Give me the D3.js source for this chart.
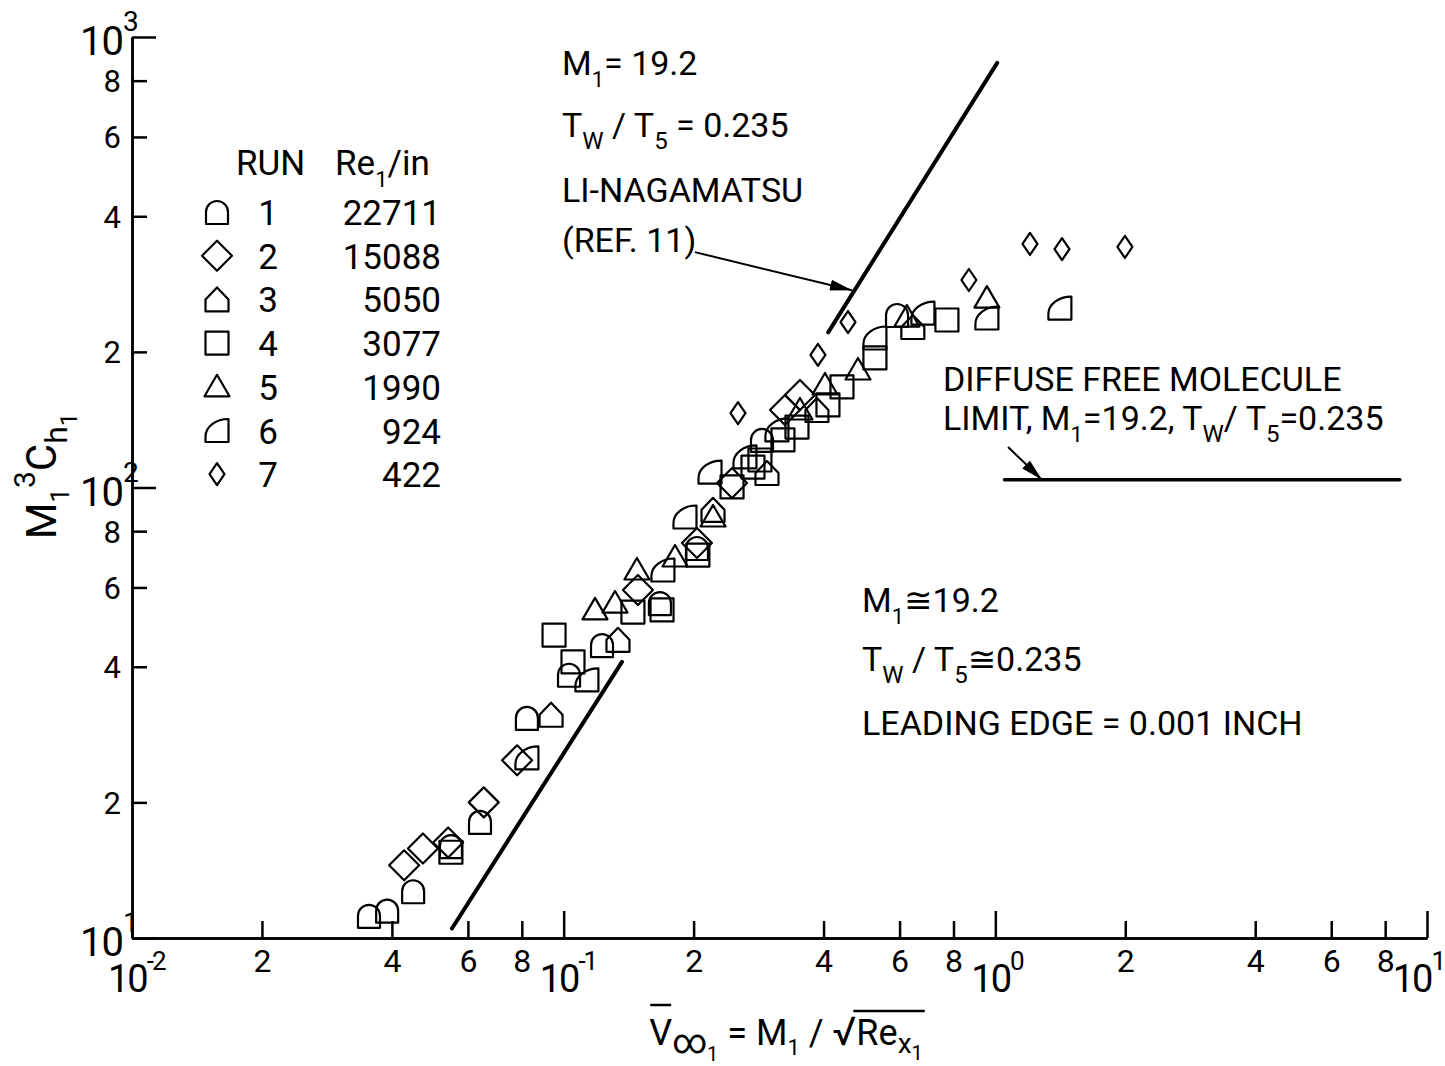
<!DOCTYPE html>
<html>
<head>
<meta charset="utf-8">
<script src="https://cdn.jsdelivr.net/npm/d3@7"></script>
<style>
  body { margin: 0; background: #fff; }
  svg text { font-family: Roboto, "DejaVu Sans", sans-serif; fill: #000; white-space: pre; }
</style>
</head>
<body>
<div id="chart"></div>
<script>
/**
 * CONSTANTS AND DATA
 * */
const width = 1445,
  height = 1066;

// legend: run number and unit Reynolds number
const runIds = ["1", "2", "3", "4", "5", "6", "7"];
const reynolds = ["22711", "15088", "5050", "3077", "1990", "924", "422"];

// measured points, [V_inf, M^3 Ch] for each run
const run1 = [[0.0354, 11.2], [0.0390, 11.5], [0.0448, 12.7], [0.0548, 16.0], [0.0640, 18.1], [0.0822, 30.8],
  [0.1029, 38.4], [0.1227, 44.7], [0.1671, 55.4], [0.2036, 73.4], [0.288, 127.5], [0.592, 241.5]];
const run2 = [[0.0427, 14.5], [0.0472, 15.8], [0.0540, 16.3], [0.0653, 20.0], [0.0780, 24.8], [0.1486, 59.2],
  [0.2036, 75.3], [0.2455, 102.3], [0.3256, 148.6], [0.3527, 160.5]];
const run3 = [[0.0935, 31.3], [0.1336, 45.9], [0.2218, 89.2], [0.2958, 107.7], [0.3861, 148.6], [0.644, 227.1]];
const run4 = [[0.0548, 15.5], [0.0950, 47.0], [0.1051, 41.0], [0.1447, 52.9], [0.1690, 53.5], [0.2046, 70.8],
  [0.2455, 100.3], [0.2745, 111.0], [0.2849, 115.1], [0.3221, 127.5], [0.3471, 136.2], [0.4095, 152.5],
  [0.4413, 167.2], [0.5261, 193.9], [0.7724, 235.4]];
const run5 = [[0.1182, 53.5], [0.1315, 55.4], [0.1478, 65.6], [0.1811, 70.1], [0.2218, 86.0], [0.3527, 148.6],
  [0.4030, 168.9], [0.4806, 182.3], [0.624, 239.0], [0.956, 263.3]];
const run6 = [[0.0822, 25.1], [0.1132, 37.4], [0.1698, 65.6], [0.1910, 86.0], [0.2183, 108.2], [0.2630, 116.9],
  [0.3119, 134.2], [0.5261, 214.7], [0.6796, 243.9], [0.956, 237.8], [1.411, 250.2]];
const run7 = [[0.2534, 146.3], [0.3882, 196.9], [0.4557, 233.0], [0.8685, 288.8], [1.203, 347.2],
  [1.427, 338.3], [1.996, 341.9]];

// theory lines
const liNagamatsu = [[0.41, 221], [1.01, 876]];
const lowerLine = [[0.0551, 10.5], [0.1365, 41.0]];
const freeMolecule = [[1.05, 104], [8.65, 104]];
// arrows pointing at lines [from, to]
const liArrow = [[0.2014, 333], [0.4654, 274]];
const fmArrow = [[1.07, 123], [1.282, 104]];

// ticks
const xDecades = [-2, -1, 0, 1];
const yDecades = [1, 2, 3];
const minorDigits = [2, 4, 6, 8];

/**
 * SCALES
 * */
const x = d3.scaleLog().domain([0.01, 10]).range([132, 1427]);
const y = d3.scaleLog().domain([10, 1000]).range([938, 37]);

const svg = d3.select("#chart").append("svg")
  .attr("width", width)
  .attr("height", height);

// little helper for text with sub/superscripts: parts = [text, dy from baseline, size]
function rich(g, px, py, parts, anchor) {
  const t = g.append("text").attr("x", px).attr("y", py)
    .attr("text-anchor", anchor || "start");
  let off = 0;
  parts.forEach(([s, d, fs]) => {
    t.append("tspan").attr("dy", d - off).attr("font-size", fs).text(s);
    off = d;
  });
  return t;
}

/**
 * AXES
 * */
const majorX = xDecades.map(d => Math.pow(10, d));
const minorX = [];
xDecades.slice(0, 3).forEach(d => minorDigits.forEach(m => minorX.push(m * Math.pow(10, d))));
const majorY = yDecades.map(d => Math.pow(10, d));
const minorY = [];
yDecades.slice(0, 2).forEach(d => minorDigits.forEach(m => minorY.push(m * Math.pow(10, d))));
const leadDigit = d => String(Math.round(d / Math.pow(10, Math.floor(Math.log10(d) + 1e-9))));

const gx = svg.append("g").attr("transform", `translate(0,${y(10)})`);
gx.append("g").call(d3.axisBottom(x).tickValues(majorX).tickSize(-27).tickSizeOuter(0).tickFormat(""));
gx.append("g").call(d3.axisBottom(x).tickValues(minorX).tickSize(-17).tickSizeOuter(0).tickFormat(leadDigit));
gx.selectAll("text").attr("y", 34).attr("dy", null).attr("font-size", 32).style("font-family", null);

const gy = svg.append("g").attr("transform", `translate(${x(0.01)},0)`);
gy.append("g").call(d3.axisLeft(y).tickValues(majorY).tickSize(-24).tickSizeOuter(0).tickFormat(""));
gy.append("g").call(d3.axisLeft(y).tickValues(minorY).tickSize(-15).tickSizeOuter(0).tickFormat(leadDigit));
gy.selectAll("text").attr("x", -11).attr("dy", 11).attr("font-size", 31).style("font-family", null);

svg.selectAll(".domain, .tick line").attr("stroke", "#000").attr("stroke-width", 2.5);

// decade labels
const gLab = svg.append("g");
xDecades.forEach(d => {
  const t = rich(gLab, x(Math.pow(10, d)) - 24, 992,
    [["10", 0, 38], [d < 0 ? "-" + (-d) : String(d), -22, 26]]);
  t.attr("letter-spacing", -2);
  // keep the last label inside the picture
  const b = t.node().getBBox();
  if (b.x + b.width > width - 1) t.attr("x", +t.attr("x") - (b.x + b.width - width + 1));
});
yDecades.forEach(d => {
  rich(gLab, 80, y(Math.pow(10, d)) + 18, [["10", 0, 40], [String(d), -24, 28]]).attr("letter-spacing", -1);
});

// axis titles
const xt = rich(svg, 786, 1045, [["V", 0, 36], ["\u221E", 8, 34], ["1", 16, 20], [" = M", 0, 36], ["1", 10, 22],
  [" / ", 0, 36], ["\u221A", 0, 40], ["Re", 0, 36], ["x", 8, 28], ["1", 15, 20]], "middle");
{
  const node = xt.node();
  const full = node.textContent;
  const vBox = node.getExtentOfChar(0);
  const sBox = node.getExtentOfChar(full.indexOf("\u221A"));
  const eBox = node.getExtentOfChar(full.length - 1);
  svg.append("line").attr("x1", vBox.x + 1).attr("x2", vBox.x + vBox.width - 1).attr("y1", 1005).attr("y2", 1005)
    .attr("stroke", "#000").attr("stroke-width", 2.5);
  svg.append("line").attr("x1", sBox.x + sBox.width - 3).attr("x2", eBox.x + eBox.width + 2)
    .attr("y1", 1011).attr("y2", 1011)
    .attr("stroke", "#000").attr("stroke-width", 2.5);
}

rich(svg, 0, 0, [["M", 0, 42], ["1", 13, 26], ["3", -21, 30], ["C", 0, 42], ["h", 11, 32], ["1", 21, 24]], "middle")
  .attr("transform", "translate(56,476) rotate(-90)");

/**
 * LINES AND ARROWS
 * */
svg.append("defs").append("marker")
  .attr("id", "head").attr("viewBox", "0 0 20 10").attr("refX", 20).attr("refY", 5)
  .attr("markerWidth", 22).attr("markerHeight", 11).attr("markerUnits", "userSpaceOnUse")
  .attr("orient", "auto")
  .append("path").attr("d", "M0,0L20,5L0,10Z").attr("fill", "#000");

const line = d3.line().x(d => x(d[0])).y(d => y(d[1]));
[[liNagamatsu, 4], [lowerLine, 4], [freeMolecule, 3.5]].forEach(([pts, w]) => {
  svg.append("path").attr("d", line(pts)).attr("fill", "none")
    .attr("stroke", "#000").attr("stroke-width", w).attr("stroke-linecap", "round");
});
[liArrow, fmArrow].forEach(pts => {
  svg.append("path").attr("d", line(pts)).attr("fill", "none")
    .attr("stroke", "#000").attr("stroke-width", 2).attr("marker-end", "url(#head)");
});

/**
 * MARKERS
 * */
const shapes = [
  "M-11,12V0A11,11 0 0 1 11,0V12Z",                 // 1 bullet
  "M0,-15L15,0L0,15L-15,0Z",                        // 2 diamond
  "M-11.5,12V0L0,-12L11.5,0V12Z",                   // 3 house
  "M-11.5,-11.5H11.5V11.5H-11.5Z",                  // 4 square
  "M0,-12L12.5,9.5H-12.5Z",                         // 5 triangle
  "M-11.5,11.5H11.5V-11.5A23,17.5 0 0 0 -11.5,6Z",  // 6 quarter round
  "M0,-11L7.5,0L0,11L-7.5,0Z"                       // 7 small diamond
];
const allRuns = [run1, run2, run3, run4, run5, run6, run7];

allRuns.forEach((pts, i) => {
  svg.append("g").selectAll("path")
    .data(pts)
    .join("path")
    .attr("d", shapes[i])
    .attr("transform", d => `translate(${x(d[0])},${y(d[1])})`)
    .attr("fill", "none")
    .attr("stroke", "#000")
    .attr("stroke-width", 2.2)
    .attr("stroke-linejoin", "round");
});

/**
 * LEGEND
 * */
const leg = svg.append("g");
leg.append("text").attr("x", 236).attr("y", 175).attr("font-size", 35).text("RUN");
rich(leg, 335, 175, [["Re", 0, 35], ["1", 12, 22], ["/in", 0, 35]]);
runIds.forEach((r, i) => {
  const cy = 212 + i * 43.7;
  leg.append("path").attr("d", shapes[i]).attr("transform", `translate(217,${cy})`)
    .attr("fill", "none").attr("stroke", "#000").attr("stroke-width", 2.2).attr("stroke-linejoin", "round");
  leg.append("text").attr("x", 268).attr("y", cy + 13).attr("font-size", 35)
    .attr("text-anchor", "middle").text(r);
  leg.append("text").attr("x", 441).attr("y", cy + 13).attr("font-size", 35)
    .attr("text-anchor", "end").text(reynolds[i]);
});

/**
 * ANNOTATIONS
 * */
const ann = svg.append("g");
rich(ann, 562, 75, [["M", 0, 34], ["1", 12, 22], ["= 19.2", 0, 34]]);
rich(ann, 562, 137, [["T", 0, 34], ["W", 12, 24], [" / T", 0, 34], ["5", 12, 24], [" = 0.235", 0, 34]]);
ann.append("text").attr("x", 562).attr("y", 202).attr("font-size", 34).text("LI-NAGAMATSU");
ann.append("text").attr("x", 562).attr("y", 252).attr("font-size", 34).text("(REF. 11)");

ann.append("text").attr("x", 943).attr("y", 391).attr("font-size", 34).text("DIFFUSE FREE MOLECULE");
rich(ann, 943, 430, [["LIMIT, M", 0, 34], ["1", 12, 22], ["=19.2, T", 0, 34], ["W", 12, 24],
  ["/ T", 0, 34], ["5", 12, 24], ["=0.235", 0, 34]]);

rich(ann, 862, 612, [["M", 0, 34], ["1", 12, 22], ["\u224519.2", 0, 34]]);
rich(ann, 862, 671, [["T", 0, 34], ["W", 12, 24], [" / T", 0, 34], ["5", 12, 24], ["\u22450.235", 0, 34]]);
ann.append("text").attr("x", 862).attr("y", 735).attr("font-size", 34).text("LEADING EDGE = 0.001 INCH");
</script>
</body>
</html>
